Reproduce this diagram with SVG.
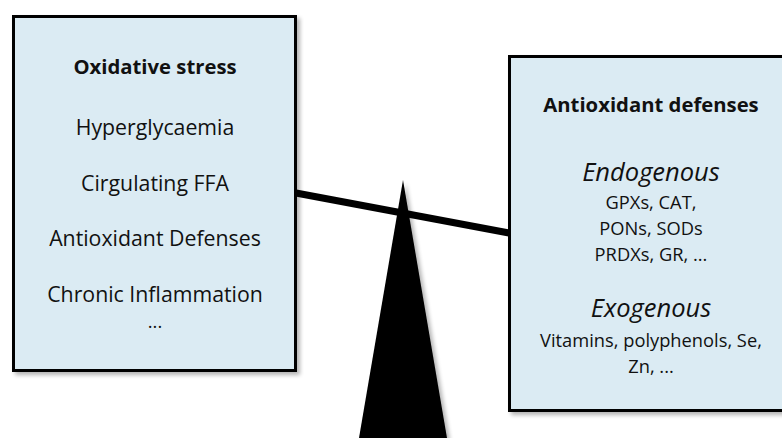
<svg xmlns="http://www.w3.org/2000/svg" width="782" height="438" viewBox="0 0 782 438">
<defs>
<filter id="sh" x="-10%" y="-10%" width="130%" height="130%">
<feGaussianBlur in="SourceAlpha" stdDeviation="2"/>
<feOffset dx="3" dy="3" result="b"/>
<feComponentTransfer><feFuncA type="linear" slope="0.3"/></feComponentTransfer>
<feMerge><feMergeNode/><feMergeNode in="SourceGraphic"/></feMerge>
</filter>
<style>
.box{fill:#dbebf3;stroke:#000;stroke-width:3}
text{font-family:"Open Sans","Liberation Sans",sans-serif;fill:#111;text-anchor:middle}
.t{font-weight:bold;font-size:20.3px}
.i{font-size:21.3px}
.h{font-style:italic;font-size:25.5px}
.s{font-size:18.3px}
</style>
</defs>
<rect width="782" height="438" fill="#fff"/>
<g id="connectors">
<line x1="296" y1="193" x2="509" y2="233" stroke="#000" stroke-width="7"/>
</g>
<g id="fulcrum">
<polygon points="403,180 359,438 447,438" fill="#000" filter="url(#sh)"/>
</g>
<g id="oxidative-stress">
<rect class="box" x="13.5" y="16.5" width="282" height="354" filter="url(#sh)"/>
<text class="t" x="155" y="74">Oxidative stress</text>
<text class="i" x="155" y="135">Hyperglycaemia</text>
<text class="i" x="155" y="191">Cirgulating FFA</text>
<text class="i" x="155" y="246">Antioxidant Defenses</text>
<text class="i" x="155" y="302">Chronic Inflammation</text>
<text class="s" x="155" y="328">...</text>
</g>
<g id="antioxidant-defenses">
<rect class="box" x="509.5" y="56.5" width="290" height="354" filter="url(#sh)"/>
<text class="t" x="651" y="112">Antioxidant defenses</text>
<text class="h" x="651" y="181">Endogenous</text>
<text class="s" x="651" y="209">GPXs, CAT,</text>
<text class="s" x="651" y="235">PONs, SODs</text>
<text class="s" x="651" y="261">PRDXs, GR, ...</text>
<text class="h" x="651" y="317">Exogenous</text>
<text class="s" x="651" y="347">Vitamins, polyphenols, Se,</text>
<text class="s" x="651" y="373">Zn, ...</text>
</g>
</svg>
